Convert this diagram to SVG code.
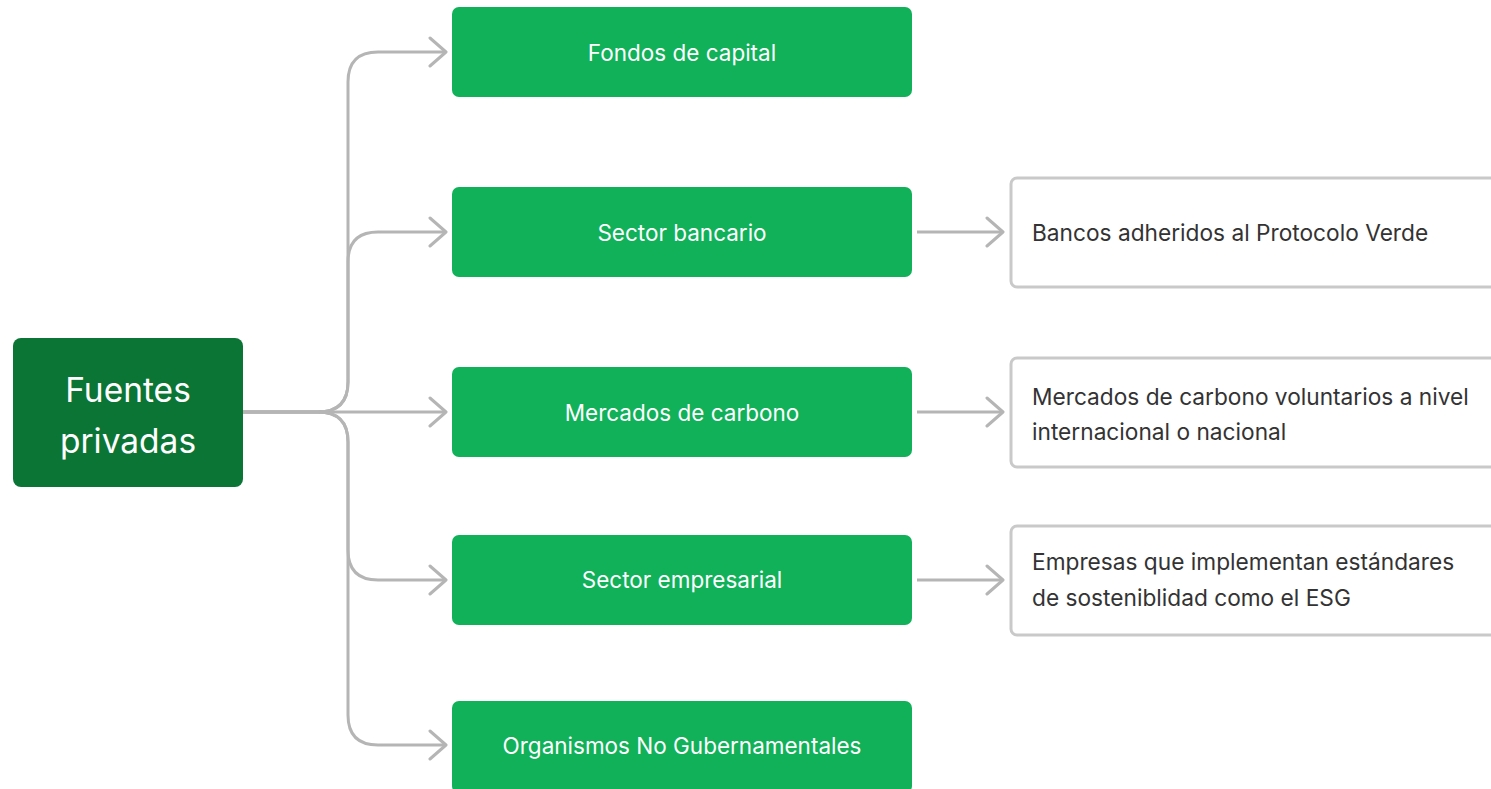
<svg xmlns="http://www.w3.org/2000/svg" width="1491" height="789" viewBox="0 0 1491 789">
<style>
.root{fill:#0b7535}
.mid{fill:#10b159}
.det{fill:#ffffff;stroke:#c9c9c9;stroke-width:3}
.tw{fill:#ffffff;font-family:Inter,"Noto Sans",sans-serif;text-anchor:middle}
.td{fill:#333333;font-family:Inter,"Noto Sans",sans-serif;font-size:22.7px}
.c{fill:none;stroke:#b5b5b5;stroke-width:3;stroke-linejoin:round}
</style>
<defs>
<marker id="ah" markerUnits="userSpaceOnUse" markerWidth="24" markerHeight="34" refX="18" refY="16" orient="auto">
<polyline points="2,2 18,16 2,30" fill="none" stroke="#b5b5b5" stroke-width="3" stroke-linecap="round" stroke-linejoin="round"/>
</marker>
</defs>
<g id="connectors">
<path class="c" marker-end="url(#ah)" d="M243 412 H318 Q348 412 348 382 V82 Q348 52 378 52 H446"/>
<path class="c" marker-end="url(#ah)" d="M243 412 H318 Q348 412 348 382 V262 Q348 232 378 232 H446"/>
<path class="c" marker-end="url(#ah)" d="M243 412 H446"/>
<path class="c" marker-end="url(#ah)" d="M243 412 H318 Q348 412 348 442 V550 Q348 580 378 580 H446"/>
<path class="c" marker-end="url(#ah)" d="M243 412 H318 Q348 412 348 442 V715 Q348 745 378 745 H446"/>
<path class="c" marker-end="url(#ah)" d="M917 232 H1003"/>
<path class="c" marker-end="url(#ah)" d="M917 412 H1003"/>
<path class="c" marker-end="url(#ah)" d="M917 580 H1003"/>
</g>
<g id="fuentes-privadas">
<rect class="root" x="13" y="338" width="230" height="149" rx="8"/>
<text class="tw" x="128" y="402" font-size="33.5">Fuentes</text>
<text class="tw" x="128" y="453" font-size="33.5">privadas</text>
</g>
<g id="fondos-de-capital">
<rect class="mid" x="452" y="7" width="460" height="90" rx="7"/>
<text class="tw" x="682" y="61" font-size="22.5">Fondos de capital</text>
</g>
<g id="sector-bancario">
<rect class="mid" x="452" y="187" width="460" height="90" rx="7"/>
<text class="tw" x="682" y="241" font-size="22.5">Sector bancario</text>
</g>
<g id="mercados-de-carbono">
<rect class="mid" x="452" y="367" width="460" height="90" rx="7"/>
<text class="tw" x="682" y="421" font-size="22.5">Mercados de carbono</text>
</g>
<g id="sector-empresarial">
<rect class="mid" x="452" y="535" width="460" height="90" rx="7"/>
<text class="tw" x="682" y="588" font-size="22.5">Sector empresarial</text>
</g>
<g id="organismos-no-gubernamentales">
<rect class="mid" x="452" y="701" width="460" height="92" rx="7"/>
<text class="tw" x="682" y="754" font-size="22.5">Organismos No Gubernamentales</text>
</g>
<g id="bancos-protocolo-verde">
<rect class="det" x="1011" y="178" width="500" height="109" rx="6"/>
<text class="td" x="1032" y="241">Bancos adheridos al Protocolo Verde</text>
</g>
<g id="mercados-voluntarios">
<rect class="det" x="1011" y="358" width="500" height="109" rx="6"/>
<text class="td" x="1032" y="405">Mercados de carbono voluntarios a nivel</text>
<text class="td" x="1032" y="440">internacional o nacional</text>
</g>
<g id="empresas-esg">
<rect class="det" x="1011" y="526" width="500" height="109" rx="6"/>
<text class="td" x="1032" y="570">Empresas que implementan estándares</text>
<text class="td" x="1032" y="606">de sosteniblidad como el ESG</text>
</g>
</svg>
